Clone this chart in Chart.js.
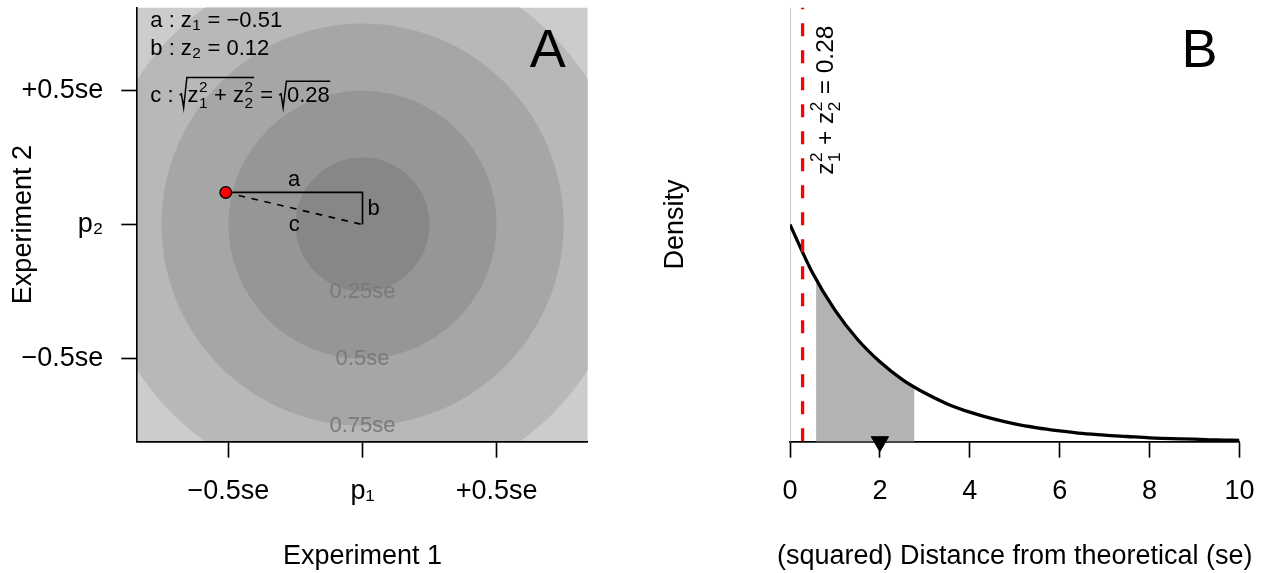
<!DOCTYPE html>
<html>

<head>
    <script src="https://cdn.jsdelivr.net/npm/chart.js@4.4.1/dist/chart.umd.min.js"></script>
    <style>
        body { margin: 0; background: #fff; width: 1265px; height: 573px; overflow: hidden; }
        canvas { position: absolute; top: 0; }
        #panelA { left: 0; }
        #panelB { left: 633px; }
    </style>
</head>

<body>

    <canvas id="panelA" width="632" height="573"></canvas>
    <canvas id="panelB" width="632" height="573"></canvas>

    <script>
        // ---- panel A data ----
        const z1 = -0.51;
        const z2 = 0.12;
        const sumSq = 0.28;
        const ringRadii = [1.0, 0.75, 0.5, 0.25];
        const ringColors = ["#b8b8b8", "#a6a6a6", "#969696", "#878787"];
        const ringLabels = ["", "0.75se", "0.5se", "0.25se"];
        const rangeA_x = [-0.84, 0.84];
        const rangeA_y = [-0.81, 0.81];
        const ticksA_x = [-0.5, 0, 0.5];
        const tickLabelsA_x = ["\u22120.5se", "p\u2081", "+0.5se"];
        const ticksA_y = [-0.5, 0, 0.5];
        const tickLabelsA_y = ["\u22120.5se", "p\u2082", "+0.5se"];

        // ---- panel B data ----
        const curveX = [0, 0.5, 1, 1.5, 2, 2.5, 3, 3.5, 4, 4.5, 5, 5.5, 6, 6.5, 7, 7.5, 8, 8.5, 9, 9.5, 10];
        const curveY = [0.500, 0.389, 0.303, 0.236, 0.184, 0.143, 0.112, 0.087, 0.068, 0.053, 0.041, 0.032, 0.025, 0.019, 0.015, 0.012, 0.009, 0.007, 0.006, 0.004, 0.003];
        const iqrX = [0.58, 1, 1.5, 2, 2.5, 2.77];
        const iqrY = [0.374, 0.303, 0.236, 0.184, 0.143, 0.125];
        const meanX = 2;
        const rangeB_x = [0, 10];
        const rangeB_y = [0, 1];
        const ticksB_x = [0, 2, 4, 6, 8, 10];
        const tickLabelsB_x = ["0", "2", "4", "6", "8", "10"];
        const xTitleB = "(squared) Distance from theoretical (se)";

        const FONT = "'Liberation Sans', Arial, Helvetica, sans-serif";
        const LWD = 1.65;
        Chart.defaults.font.family = FONT;
        Chart.defaults.color = "#000";

        // fixes the box of an axis so the plot region lands where R put it
        function fixBox(size) {
            return function (s) {
                if (s.isHorizontal()) s.height = size; else s.width = size;
                s.paddingLeft = s.paddingRight = s.paddingTop = s.paddingBottom = 0;
            };
        }

        // small plotmath-like text runner: strings, {sup, sub}, {sqrt: [...]}
        function mathRun(ctx, parts, x, y, size, draw) {
            let cx = x;
            for (const p of parts) {
                if (typeof p === "string") {
                    ctx.font = size + "px " + FONT;
                    if (draw) ctx.fillText(p, cx, y);
                    cx += ctx.measureText(p).width;
                } else if (p.sqrt) {
                    const inner = mathRun(ctx, p.sqrt, 0, 0, size, false);
                    const tall = p.sqrt.some(q => typeof q === "object");
                    const top = y - size * (tall ? 1.1 : 0.93);
                    const rw = size * 0.33;
                    if (draw) {
                        ctx.beginPath();
                        ctx.moveTo(cx, y - size * 0.3);
                        ctx.lineTo(cx + rw * 0.25, y - size * 0.36);
                        ctx.lineTo(cx + rw * 0.55, y + size * 0.27);
                        ctx.lineTo(cx + rw, top);
                        ctx.lineTo(cx + rw + inner + 1, top);
                        ctx.lineWidth = 1.5;
                        ctx.stroke();
                        mathRun(ctx, p.sqrt, cx + rw + 0.5, y, size, true);
                    }
                    cx += rw + inner + 1;
                } else {
                    const s = size * 0.7;
                    ctx.font = s + "px " + FONT;
                    let w = 0;
                    if (p.sup) {
                        if (draw) ctx.fillText(p.sup, cx + 0.5, y - size * 0.42);
                        w = Math.max(w, ctx.measureText(p.sup).width);
                    }
                    if (p.sub) {
                        if (draw) ctx.fillText(p.sub, cx + 0.5, y + size * (p.sup ? 0.3 : 0.13));
                        w = Math.max(w, ctx.measureText(p.sub).width);
                    }
                    cx += w + 1;
                }
            }
            return cx - x;
        }

        // ---------------- panel A ----------------
        const ringsPlugin = {
            id: "rings",
            beforeDraw(chart) {
                const { ctx, chartArea: a, scales: { x, y } } = chart;
                ctx.save();
                ctx.beginPath();
                ctx.rect(a.left, a.top, a.right - a.left, a.bottom - a.top);
                ctx.clip();
                ctx.fillStyle = "#cccccc";
                ctx.fillRect(a.left, a.top, a.right - a.left, a.bottom - a.top);
                const cx = x.getPixelForValue(0), cy = y.getPixelForValue(0);
                ringRadii.forEach((r, i) => {
                    ctx.fillStyle = ringColors[i];
                    ctx.beginPath();
                    ctx.arc(cx, cy, x.getPixelForValue(r) - cx, 0, 2 * Math.PI);
                    ctx.fill();
                });
                ctx.fillStyle = "#7a7a7a";
                ctx.font = "22px " + FONT;
                ctx.textAlign = "center";
                ctx.textBaseline = "middle";
                ringRadii.forEach((r, i) => {
                    if (ringLabels[i]) ctx.fillText(ringLabels[i], cx, y.getPixelForValue(-r));
                });
                ctx.restore();
            },
            afterDatasetsDraw(chart) {
                const { ctx, chartArea: a, scales: { x, y } } = chart;
                ctx.save();
                ctx.fillStyle = "#000";
                ctx.strokeStyle = "#000";
                ctx.font = "22px " + FONT;
                ctx.textBaseline = "middle";
                ctx.textAlign = "center";
                ctx.fillText("a", x.getPixelForValue(z1 / 2), y.getPixelForValue(z2) - 12);
                ctx.fillText("c", x.getPixelForValue(z1 / 2), y.getPixelForValue(z2 / 2) + 16);
                ctx.textAlign = "left";
                ctx.fillText("b", x.getPixelForValue(0) + 5, y.getPixelForValue(z2 / 2));

                ctx.textBaseline = "alphabetic";
                const x0 = a.left + 13;
                mathRun(ctx, ["a : z", { sub: "1" }, " = \u2212" + Math.abs(z1).toFixed(2)], x0, a.top + 19.2, 22, true);
                mathRun(ctx, ["b : z", { sub: "2" }, " = " + z2.toFixed(2)], x0, a.top + 47.5, 22, true);
                mathRun(ctx, ["c : ",
                    { sqrt: ["z", { sup: "2", sub: "1" }, " + z", { sup: "2", sub: "2" }] },
                    " = ",
                    { sqrt: [sumSq.toFixed(2)] }], x0, a.top + 94.2, 22, true);

                ctx.font = "54px " + FONT;
                ctx.textAlign = "right";
                ctx.fillText("A", a.right - 22, a.top + 59.2);
                ctx.restore();
            }
        };

        new Chart(document.getElementById("panelA"), {
            type: "scatter",
            data: {
                datasets: [
                    {
                        data: [{ x: z1, y: z2 }],
                        pointRadius: 5.8,
                        pointBackgroundColor: "#ff0000",
                        pointBorderColor: "#000",
                        pointBorderWidth: 1.3,
                        showLine: false
                    },
                    {
                        data: [{ x: z1, y: z2 }, { x: 0, y: z2 }, { x: 0, y: 0 }],
                        showLine: true,
                        borderColor: "#000",
                        borderWidth: LWD,
                        pointRadius: 0
                    },
                    {
                        data: [{ x: z1, y: z2 }, { x: 0, y: 0 }],
                        showLine: true,
                        borderColor: "#000",
                        borderWidth: LWD,
                        borderDash: [6.6, 6.6],
                        pointRadius: 0
                    }
                ]
            },
            options: {
                animation: false,
                responsive: false,
                events: [],
                layout: { padding: { top: 7.5, right: 44.3, left: 0, bottom: 0 }, autoPadding: false },
                plugins: { legend: { display: false }, tooltip: { enabled: false } },
                scales: {
                    x: {
                        type: "linear",
                        min: rangeA_x[0],
                        max: rangeA_x[1],
                        afterBuildTicks: s => { s.ticks = ticksA_x.map(v => ({ value: v })); },
                        afterFit: fixBox(131.3),
                        ticks: {
                            callback: (v, i) => tickLabelsA_x[i],
                            font: { size: 27 },
                            color: "#000",
                            padding: 18,
                            autoSkip: false,
                            maxRotation: 0
                        },
                        grid: { drawOnChartArea: false, tickLength: 16, tickColor: "#000", tickWidth: LWD },
                        border: { color: "#000", width: LWD },
                        title: { display: true, text: "Experiment 1", font: { size: 27 }, color: "#000", padding: { top: 0, bottom: 0 } }
                    },
                    y: {
                        type: "linear",
                        min: rangeA_y[0],
                        max: rangeA_y[1],
                        afterBuildTicks: s => { s.ticks = ticksA_y.map(v => ({ value: v })); },
                        afterFit: fixBox(137.3),
                        ticks: {
                            callback: (v, i) => tickLabelsA_y[i],
                            font: { size: 27 },
                            color: "#000",
                            padding: 18,
                            autoSkip: false
                        },
                        grid: { drawOnChartArea: false, tickLength: 16, tickColor: "#000", tickWidth: LWD },
                        border: { color: "#000", width: LWD },
                        title: { display: true, text: "Experiment 2", font: { size: 27 }, color: "#000", padding: { top: 7.3, bottom: 0 } }
                    }
                }
            },
            plugins: [ringsPlugin]
        });

        // ---------------- panel B ----------------
        const labelsB = {
            id: "labelsB",
            afterDatasetsDraw(chart) {
                const { ctx, chartArea: a, scales: { x, y } } = chart;
                ctx.save();
                ctx.fillStyle = "#000";
                ctx.strokeStyle = "#000";
                ctx.textBaseline = "alphabetic";
                ctx.textAlign = "left";
                ctx.translate(x.getPixelForValue(sumSq) + 30, y.getPixelForValue(0.615));
                ctx.rotate(-Math.PI / 2);
                mathRun(ctx, ["z", { sup: "2", sub: "1" }, " + z", { sup: "2", sub: "2" }, " = " + sumSq.toFixed(2)], 0, 0, 24.5, true);
                ctx.restore();

                ctx.save();
                ctx.fillStyle = "#000";
                ctx.font = "54px " + FONT;
                ctx.textAlign = "right";
                ctx.fillText("B", a.right - 22, a.top + 59.2);
                // axis title is wider than the plot region, so it is drawn here unsqueezed
                ctx.font = "27px " + FONT;
                ctx.textAlign = "center";
                ctx.textBaseline = "middle";
                ctx.fillText(xTitleB, (a.left + a.right) / 2, chart.height - 16.2);
                ctx.restore();
            }
        };

        new Chart(document.getElementById("panelB"), {
            type: "scatter",
            data: {
                datasets: [
                    {
                        data: [{ x: meanX, y: 0 }],
                        pointStyle: "triangle",
                        rotation: 180,
                        pointRadius: 10,
                        pointBackgroundColor: "#000",
                        pointBorderColor: "#000",
                        pointBorderWidth: 1,
                        showLine: false,
                        clip: false
                    },
                    {
                        data: [{ x: sumSq, y: rangeB_y[1] }, { x: sumSq, y: 0 }],
                        showLine: true,
                        borderColor: "#ff0000",
                        borderWidth: 2 * LWD,
                        borderDash: [13, 14],
                        borderDashOffset: 11.3,
                        pointRadius: 0
                    },
                    {
                        data: curveX.map((v, i) => ({ x: v, y: curveY[i] })),
                        showLine: true,
                        borderColor: "#000",
                        borderWidth: 2 * LWD,
                        cubicInterpolationMode: "monotone",
                        pointRadius: 0
                    },
                    {
                        data: [{ x: 0, y: 0 }, { x: 0, y: rangeB_y[1] }],
                        showLine: true,
                        borderColor: "#bebebe",
                        borderWidth: LWD,
                        pointRadius: 0
                    },
                    {
                        data: iqrX.map((v, i) => ({ x: v, y: iqrY[i] })),
                        showLine: true,
                        borderWidth: 0,
                        borderColor: "rgba(0,0,0,0)",
                        backgroundColor: "#b3b3b3",
                        fill: "origin",
                        cubicInterpolationMode: "monotone",
                        pointRadius: 0
                    }
                ]
            },
            options: {
                animation: false,
                responsive: false,
                events: [],
                layout: { padding: { top: 7.5, right: 25.5, left: 0, bottom: 0 }, autoPadding: false },
                plugins: { legend: { display: false }, tooltip: { enabled: false } },
                scales: {
                    x: {
                        type: "linear",
                        min: rangeB_x[0],
                        max: rangeB_x[1],
                        afterBuildTicks: s => { s.ticks = ticksB_x.map(v => ({ value: v })); },
                        afterFit: fixBox(131.3),
                        ticks: {
                            callback: (v, i) => tickLabelsB_x[i],
                            font: { size: 27 },
                            color: "#000",
                            padding: 18,
                            autoSkip: false,
                            maxRotation: 0
                        },
                        grid: { drawOnChartArea: false, tickLength: 16, tickColor: "#000", tickWidth: LWD },
                        border: { color: "#000", width: LWD },
                        title: { display: false }
                    },
                    y: {
                        type: "linear",
                        min: rangeB_y[0],
                        max: rangeB_y[1],
                        afterFit: fixBox(157),
                        ticks: { display: false },
                        grid: { display: false },
                        border: { display: false },
                        title: { display: true, text: "Density", font: { size: 27 }, color: "#000", padding: { top: 26.3, bottom: 0 } }
                    }
                }
            },
            plugins: [labelsB]
        });
    </script>
</body>

</html>
